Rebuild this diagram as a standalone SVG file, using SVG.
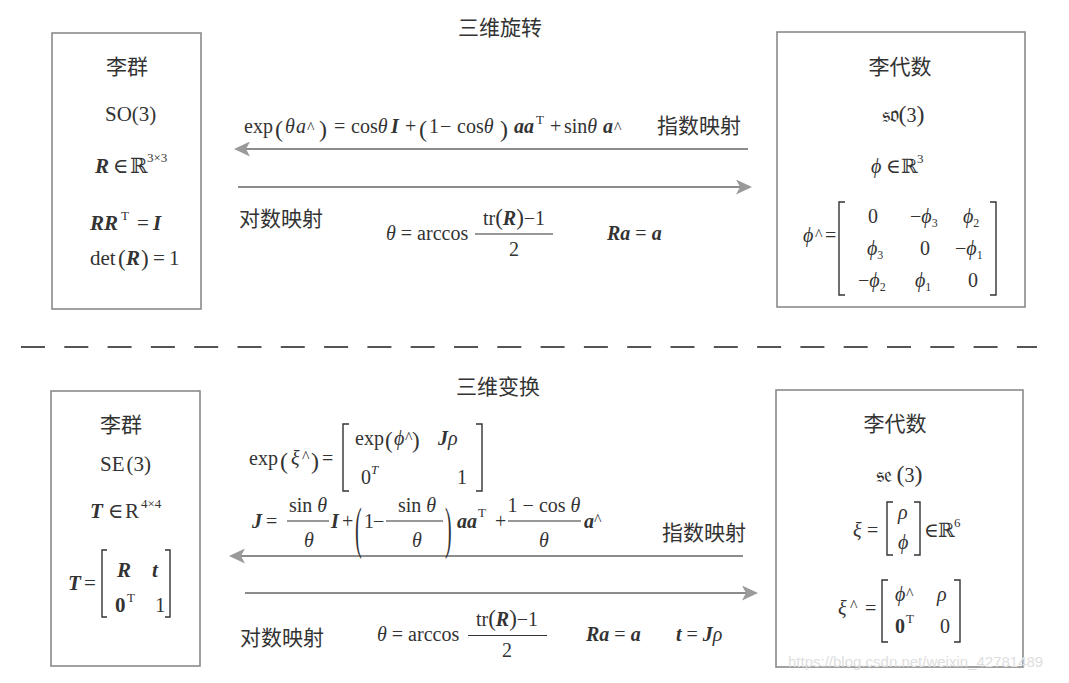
<svg xmlns="http://www.w3.org/2000/svg" width="1069" height="683" viewBox="0 0 1069 683">
<style>
text{fill:#333}
.m{font-family:"Liberation Serif","DejaVu Serif",serif;font-size:20px}
.bx{font-size:21px}
.i{font-style:italic}
.b{font-style:italic;font-weight:bold}
.ub{font-weight:bold}
.cn{font-family:"Noto Sans CJK SC","Noto Sans",sans-serif;font-size:21px}
.s{font-size:13px}
.sub{font-size:12px}
.hat{font-size:16px}
.ds{font-family:"DejaVu Serif","DejaVu Sans",serif}
.fk{font-family:"DejaVu Serif","DejaVu Sans","Noto Sans",serif;font-size:22px}
.box{fill:none;stroke:#8a8a8a;stroke-width:1.6}
.br{fill:none;stroke:#333;stroke-width:1.4}
.bar{stroke:#333;stroke-width:1.1}
.arr{stroke:#8c8c8c;stroke-width:2;fill:none;marker-end:url(#ah)}
.sep{stroke:#555;stroke-width:2;stroke-dasharray:24 19.3}
.wm{font-family:"Liberation Sans",sans-serif;font-size:15px;fill:#dedede}
</style>
<defs>
<marker id="ah" viewBox="0 0 16 15" refX="14" refY="7.5" markerWidth="16" markerHeight="15" markerUnits="userSpaceOnUse" orient="auto">
<path d="M0,0 L16,7.5 L0,15 L4,7.5 Z" fill="#9a9a9a"/>
</marker>
</defs>
<rect width="1069" height="683" fill="#fff"/>

<g id="titles">
<text class="cn" x="500" y="35" text-anchor="middle">三维旋转</text>
<text class="cn" x="498" y="394" text-anchor="middle">三维变换</text>
</g>

<line id="separator" class="sep" x1="21" y1="347" x2="1037" y2="347"/>

<g id="lie-group-so3">
<rect class="box" x="52" y="33" width="149" height="276"/>
<text class="cn" x="127" y="74" text-anchor="middle">李群</text>
<text class="m bx" x="105" y="121">SO(3)</text>
<text class="m bx" y="173"><tspan class="b" x="95">R</tspan><tspan x="113">∈</tspan><tspan class="ds" x="130">ℝ</tspan><tspan class="s" x="147" y="162">3×3</tspan></text>
<text class="m bx" y="230"><tspan class="b" x="90">RR</tspan><tspan class="s" x="121" y="220">T</tspan><tspan x="137" y="230">=</tspan><tspan class="b" x="153">I</tspan></text>
<text class="m bx" y="265"><tspan x="90">det</tspan><tspan x="118" font-size="23" y="266">(</tspan><tspan class="b" x="126" y="265">R</tspan><tspan x="141" font-size="23" y="266">)</tspan><tspan x="153" y="265">=</tspan><tspan x="169">1</tspan></text>
</g>

<g id="lie-algebra-so3">
<rect class="box" x="777" y="32" width="248" height="275"/>
<text class="cn" x="900" y="74" text-anchor="middle">李代数</text>
<text class="m" x="903" y="122" text-anchor="middle"><tspan class="fk">𝔰𝔬</tspan><tspan font-size="24">(</tspan>3<tspan font-size="24">)</tspan></text>
<text class="m" y="173"><tspan class="i" x="871">ϕ</tspan><tspan x="886">∈</tspan><tspan class="ds" x="901">ℝ</tspan><tspan class="s" x="917" y="163">3</tspan></text>
<text class="m" y="242"><tspan class="i" x="803">ϕ</tspan><tspan class="hat" x="815" y="240">^</tspan><tspan x="825" y="242">=</tspan></text>
<path class="br" d="M845,202 H839 V295 H845 M990,202 H996 V295 H990"/>
<text class="m" y="223"><tspan x="868">0</tspan><tspan x="910">−</tspan><tspan class="i">ϕ</tspan><tspan class="sub" y="227">3</tspan><tspan class="i" x="963" y="223">ϕ</tspan><tspan class="sub" y="227">2</tspan></text>
<text class="m" y="255"><tspan class="i" x="867">ϕ</tspan><tspan class="sub" y="259">3</tspan><tspan x="920" y="255">0</tspan><tspan x="955">−</tspan><tspan class="i">ϕ</tspan><tspan class="sub" y="259">1</tspan></text>
<text class="m" y="287"><tspan x="858">−</tspan><tspan class="i">ϕ</tspan><tspan class="sub" y="291">2</tspan><tspan class="i" x="915" y="287">ϕ</tspan><tspan class="sub" y="291">1</tspan><tspan x="968" y="287">0</tspan></text>
</g>

<g id="lie-group-se3">
<rect class="box" x="51" y="391" width="149" height="275"/>
<text class="cn" x="121" y="432" text-anchor="middle">李群</text>
<text class="m bx" x="100" y="471">SE<tspan dx="2">(3)</tspan></text>
<text class="m bx" y="518"><tspan class="b" x="90">T</tspan><tspan x="108">∈</tspan><tspan x="125">R</tspan><tspan class="s" x="141" y="508">4×4</tspan></text>
<text class="m bx" y="590"><tspan class="b" x="68">T</tspan><tspan x="84">=</tspan></text>
<path class="br" d="M107,550 H102 V617 H107 M165,550 H170 V617 H165"/>
<text class="m bx" y="577"><tspan class="b" x="117">R</tspan><tspan class="b" x="152">t</tspan></text>
<text class="m bx" y="612"><tspan class="ub" x="115">0</tspan><tspan class="s" x="127" y="602">T</tspan><tspan x="155" y="612">1</tspan></text>
</g>

<g id="lie-algebra-se3">
<rect class="box" x="776" y="390" width="247" height="277"/>
<text class="cn" x="895" y="431" text-anchor="middle">李代数</text>
<text class="m" x="899" y="482" text-anchor="middle"><tspan class="fk">𝔰𝔢</tspan> <tspan font-size="24">(</tspan>3<tspan font-size="24">)</tspan></text>
<text class="m" y="537"><tspan class="i" x="853">ξ</tspan><tspan x="867">=</tspan><tspan x="924">∈</tspan><tspan class="ds" x="938">ℝ</tspan><tspan class="s" x="954" y="527">6</tspan></text>
<path class="br" d="M893,502 H887 V555 H893 M914,502 H920 V555 H914"/>
<text class="m i" x="898" y="519">ρ</text>
<text class="m i" x="898" y="549">ϕ</text>
<text class="m" y="615"><tspan class="i" x="838">ξ</tspan><tspan class="hat" x="850" y="611">^</tspan><tspan x="865" y="615">=</tspan></text>
<path class="br" d="M888,580 H882 V642 H888 M954,580 H960 V642 H954"/>
<text class="m" y="601"><tspan class="i" x="895">ϕ</tspan><tspan class="hat" x="906" y="599">^</tspan><tspan class="i" x="937" y="601">ρ</tspan></text>
<text class="m" y="633"><tspan class="ub" x="895">0</tspan><tspan class="s" x="906" y="623">T</tspan><tspan x="940" y="633">0</tspan></text>
</g>

<g id="connectors">
<line class="arr" x1="748" y1="149" x2="236" y2="149"/>
<line class="arr" x1="238" y1="187" x2="750" y2="187"/>
<line class="arr" x1="743" y1="556" x2="231" y2="556"/>
<line class="arr" x1="245" y1="593" x2="756" y2="593"/>
</g>

<g id="so3-labels">
<text class="m" y="133"><tspan x="244">exp</tspan><tspan x="275" font-size="24" y="137">(</tspan><tspan class="i" x="285" y="133">θ</tspan><tspan class="i" x="296">a</tspan><tspan class="hat" x="307">^</tspan><tspan x="319" font-size="24" y="137">)</tspan><tspan x="334" y="133">=</tspan><tspan x="351">cos</tspan><tspan class="i">θ</tspan><tspan class="b" x="391">I</tspan><tspan x="405">+</tspan><tspan x="419" font-size="24" y="137">(</tspan><tspan x="429" y="133">1</tspan><tspan x="440">−</tspan><tspan x="457">cos</tspan><tspan class="i">θ</tspan><tspan x="500" font-size="24" y="137">)</tspan><tspan class="b" x="514" y="133">aa</tspan><tspan class="s" x="536" y="124">T</tspan><tspan x="550" y="133">+</tspan><tspan x="564">sin</tspan><tspan class="i">θ</tspan><tspan class="b" x="603">a</tspan><tspan class="hat" x="614">^</tspan></text>
<text class="cn" x="657" y="133">指数映射</text>
<text class="cn" x="239" y="226">对数映射</text>
<text class="m" x="386" y="239.5"><tspan class="i">θ</tspan> = arccos</text>
<text class="m" x="514" y="225" text-anchor="middle">tr<tspan font-size="23">(</tspan><tspan class="b">R</tspan><tspan font-size="23">)</tspan>−1</text>
<line class="bar" x1="475" y1="234" x2="553" y2="234"/>
<text class="m" x="514" y="256" text-anchor="middle">2</text>
<text class="m" x="607" y="239.5"><tspan class="b">Ra</tspan> = <tspan class="b">a</tspan></text>
</g>

<g id="se3-labels">
<text class="m" y="465"><tspan x="249">exp</tspan><tspan x="280" font-size="24" y="469">(</tspan><tspan class="i" x="291" y="465">ξ</tspan><tspan class="hat" x="302" y="462">^</tspan><tspan x="311" font-size="24" y="469">)</tspan><tspan x="322" y="465">=</tspan></text>
<path class="br" d="M349,424 H343 V491 H349 M476,424 H482 V491 H476"/>
<text class="m" y="445"><tspan x="355">exp</tspan><tspan x="385" font-size="23" y="448">(</tspan><tspan class="i" x="394" y="445">ϕ</tspan><tspan class="hat" x="405" y="443">^</tspan><tspan x="412" font-size="23" y="448">)</tspan><tspan class="b" x="438" y="445">J</tspan><tspan class="i">ρ</tspan></text>
<text class="m" y="484"><tspan x="361">0</tspan><tspan class="s i" x="371" y="474">T</tspan><tspan x="457" y="484">1</tspan></text>

<text class="m" y="528"><tspan class="b" x="252">J</tspan><tspan x="266">=</tspan><tspan class="b" x="331">I</tspan><tspan x="342">+</tspan><tspan x="364">1</tspan><tspan x="373">−</tspan><tspan class="b" x="457">aa</tspan><tspan class="s" x="478" y="517">T</tspan><tspan x="495" y="528">+</tspan><tspan class="b" x="584">a</tspan><tspan class="hat" x="594" y="525">^</tspan></text>
<text class="m" x="308" y="512" text-anchor="middle">sin <tspan class="i">θ</tspan></text>
<line class="bar" x1="287" y1="521" x2="329" y2="521"/>
<text class="m i" x="309" y="547" text-anchor="middle">θ</text>
<text class="m" font-size="24" transform="translate(355,546.5) scale(1,2.9)">(</text>
<text class="m" x="417" y="512" text-anchor="middle">sin <tspan class="i">θ</tspan></text>
<line class="bar" x1="386" y1="521" x2="443" y2="521"/>
<text class="m i" x="417" y="547" text-anchor="middle">θ</text>
<text class="m" font-size="24" transform="translate(445,546.5) scale(1,2.9)">)</text>
<text class="m" x="544" y="512" text-anchor="middle">1 − cos <tspan class="i">θ</tspan></text>
<line class="bar" x1="508" y1="521" x2="581" y2="521"/>
<text class="m i" x="544" y="547" text-anchor="middle">θ</text>
<text class="cn" x="662" y="540">指数映射</text>

<text class="cn" x="240" y="645">对数映射</text>
<text class="m" x="377" y="641"><tspan class="i">θ</tspan> = arccos</text>
<text class="m" x="507" y="626" text-anchor="middle">tr<tspan font-size="23">(</tspan><tspan class="b">R</tspan><tspan font-size="23">)</tspan>−1</text>
<line class="bar" x1="468" y1="635.5" x2="547" y2="635.5"/>
<text class="m" x="507" y="657" text-anchor="middle">2</text>
<text class="m" x="586" y="641"><tspan class="b">Ra</tspan> = <tspan class="b">a</tspan></text>
<text class="m" x="676" y="641"><tspan class="b">t</tspan> = <tspan class="b">J</tspan><tspan class="i">ρ</tspan></text>
</g>

<text class="wm" x="788" y="667">https://blog.csdn.net/weixin_42781489</text>
</svg>
